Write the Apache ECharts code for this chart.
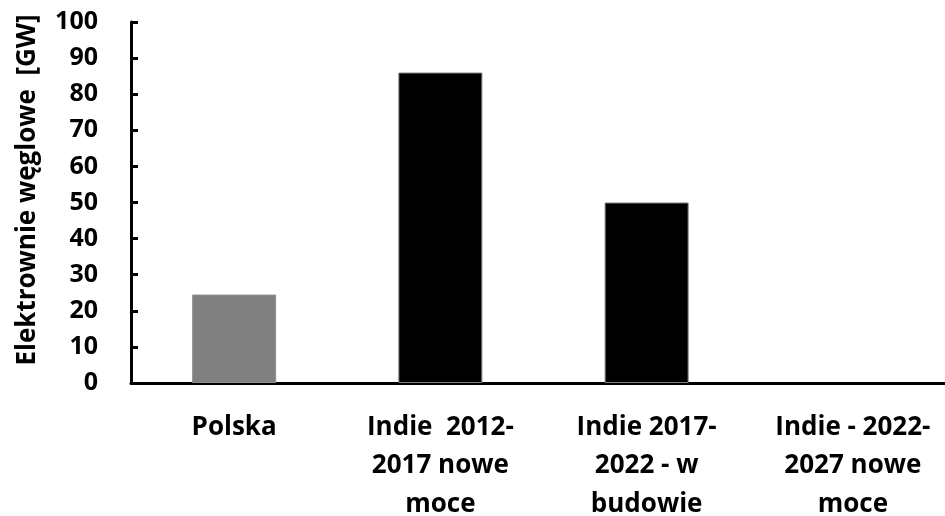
<!DOCTYPE html>
<html>
<head>
<meta charset="utf-8">
<script src="https://cdn.jsdelivr.net/npm/echarts@6/dist/echarts.min.js"></script>
<style>
  html, body { margin: 0; padding: 0; background: #fff; }
  #chart { width: 945px; height: 516px; }
</style>
</head>
<body>
<div id="chart"></div>
<script>
// Categories and installed coal capacity (GW)
const categories = [
  'Polska',
  'Indie  2012-\n2017 nowe\nmoce',
  'Indie 2017-\n2022 - w\nbudowie',
  'Indie - 2022-\n2027 nowe\nmoce'
];
const values = [24.5, 86, 50, 0];
const barColors = ['#808080', '#000000', '#000000', '#000000'];
const yTicks = { min: 0, max: 100, interval: 10 };
const yAxisTitle = 'Elektrownie węglowe  [GW]';

const FONT = '"Open Sans", "DejaVu Sans", sans-serif';

const chart = echarts.init(document.getElementById('chart'), null, { renderer: 'canvas' });
chart.setOption({
  animation: false,
  backgroundColor: '#ffffff',
  grid: {
    left: 131, right: -11, top: 22, bottom: 133,
    containLabel: false,
    outerBoundsMode: 'none'
  },
  xAxis: {
    type: 'category',
    data: categories,
    axisLine: { lineStyle: { color: '#000', width: 3 } },
    axisTick: { show: false },
    axisLabel: {
      interval: 0,
      margin: 25,
      color: '#000',
      fontFamily: FONT,
      fontWeight: 'bold',
      fontSize: 26,
      lineHeight: 38.5,
      align: 'center'
    }
  },
  yAxis: {
    type: 'value',
    min: yTicks.min,
    max: yTicks.max,
    interval: yTicks.interval,
    name: yAxisTitle,
    nameLocation: 'middle',
    nameGap: 90,
    nameTextStyle: {
      color: '#000',
      fontFamily: FONT,
      fontWeight: 'bold',
      fontSize: 26,
      padding: [0, 0, 0, 25]
    },
    axisLine: { show: true, lineStyle: { color: '#000', width: 3 } },
    axisTick: { show: true, inside: true, length: 7, lineStyle: { color: '#000', width: 3 } },
    splitLine: { show: false },
    axisLabel: {
      margin: 33,
      color: '#000',
      fontFamily: FONT,
      fontWeight: 'bold',
      fontSize: 25
    }
  },
  series: [{
    type: 'bar',
    barWidth: 84,
    data: values.map((v, i) => ({
      value: v,
      itemStyle: {
        color: barColors[i],
        borderColor: i === 0 ? '#909090' : '#7f7f7f',
        borderWidth: v > 0 ? 1 : 0
      }
    }))
  }]
});
</script>
</body>
</html>
